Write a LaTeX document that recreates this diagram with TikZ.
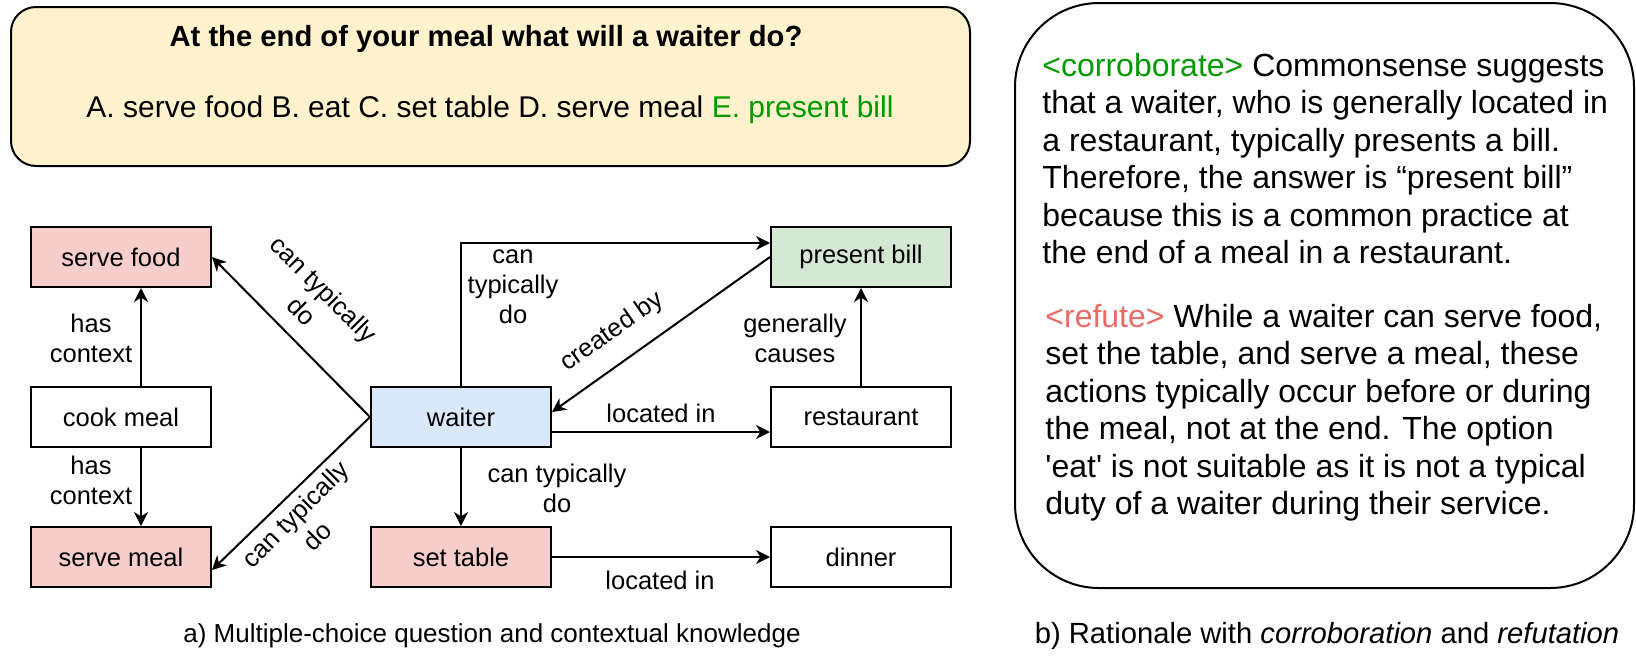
\documentclass[tikz,border=0pt]{standalone}
\usepackage{fontspec}
\setmainfont{Liberation Sans}
\usetikzlibrary{arrows.meta,calc}
\definecolor{redfill}{HTML}{F8CECC}
\definecolor{greenfill}{HTML}{D5E8D4}
\definecolor{bluefill}{HTML}{DAE8FC}
\definecolor{yellowfill}{HTML}{FFF2CC}
\definecolor{greentext}{HTML}{009900}
\definecolor{redtext}{HTML}{EA6B66}
\begin{document}
\begin{tikzpicture}[x=0.5pt,y=-0.5pt,
  concept/.style={draw,line width=1pt,minimum width=90pt,minimum height=30pt,inner sep=0pt,
    font=\fontsize{12.75}{15}\selectfont},
  edgelabel/.style={inner sep=0pt,align=center,font=\fontsize{12.75}{15}\selectfont},
  arr/.style={line width=1pt,-{Stealth[length=7pt,width=7pt,inset=2.2pt]}},
  caption/.style={inner sep=0pt},
  para/.style={inner sep=0pt,align=left,anchor=north west,font=\fontsize{16}{18.75}\selectfont}]
\useasboundingbox (0,0) rectangle (1636,670);

% question box
\node[draw,line width=1pt,fill=yellowfill,rounded corners=12.5pt,minimum width=479.5pt,minimum height=79.5pt,inner sep=0pt] (qbox) at (490.5,86.5) {};
\node[inner sep=0pt,font=\fontsize{14.6}{18}\selectfont\bfseries] (qtext) at (486,39) {At the end of your meal what will a waiter do?};
\node[inner sep=0pt,font=\fontsize{15}{18}\selectfont] (qopts) at (490,110) {A. serve food B. eat C. set table D. serve meal \textcolor{greentext}{E. present bill}};

% concept nodes
\node[concept,fill=redfill] (sf) at (121,257) {serve food};
\node[concept,fill=white] (cm) at (121,417) {cook meal};
\node[concept,fill=redfill] (sm) at (121,557) {serve meal};
\node[concept,fill=bluefill] (w) at (461,417) {waiter};
\node[concept,fill=redfill] (st) at (461,557) {set table};
\node[concept,fill=greenfill] (pb) at (861,257) {present bill};
\node[concept,fill=white] (rest) at (861,417) {restaurant};
\node[concept,fill=white] (din) at (861,557) {dinner};

% connectors
\draw[arr] ([xshift=10pt]cm.north) -- ([xshift=10pt]sf.south);
\draw[arr] ([xshift=10pt]cm.south) -- ([xshift=10pt]sm.north);
\draw[arr] (w.west) -- (sf.east);
\draw[arr] (w.west) -- ([yshift=-6.5pt]sm.east);
\draw[arr] (w.north) |- ([yshift=7pt]pb.west);
\draw[arr] (pb.west) -- ([yshift=2.5pt]w.east);
\draw[arr] ([yshift=-7.5pt]w.east) -- ([yshift=-7.5pt]rest.west);
\draw[arr] (rest.north) -- (pb.south);
\draw[arr] (w.south) -- (st.north);
\draw[arr] (st.east) -- (din.west);

% connector labels
\node[edgelabel] (l1) at (91,338) {has\\context};
\node[edgelabel] (l2) at (91,480) {has\\context};
\node[edgelabel,rotate=-45] (l3) at (313,300) {can typically\\do};
\node[edgelabel,rotate=45] (l4) at (306,525) {can typically\\do};
\node[edgelabel] (l5) at (513,287) {can\\typically\\do};
\node[edgelabel,rotate=35] (l6) at (612,332) {created by};
\node[edgelabel] (l7) at (661,413) {located in};
\node[edgelabel] (l8) at (795,338) {generally\\causes};
\node[edgelabel] (l9) at (557,488) {can typically\\do};
\node[edgelabel] (l10) at (660,580) {located in};

% rationale box
\node[draw,line width=1pt,fill=white,rounded corners=42pt,minimum width=309.5pt,minimum height=292.5pt,inner sep=0pt] (rbox) at (1324.5,295.5) {};
\node[para] (corr) at (1042,49.5) {\strut\textcolor{greentext}{<corroborate>} Commonsense suggests\\
that a waiter, who is generally located in\\
a restaurant, typically presents a bill.\\
Therefore, the answer is “present bill”\\
because this is a common practice at\\
the end of a meal in a restaurant.};
\node[para] (refu) at (1045,300.5) {\strut\textcolor{redtext}{<refute>} While a waiter can serve food,\\
set the table, and serve a meal, these\\
actions typically occur before or during\\
the meal, not at the end. The option\\
\textquotesingle eat\textquotesingle\ is not suitable as it is not a typical\\
duty of a waiter during their service.};

% captions
\node[caption,font=\fontsize{13}{15}\selectfont] (capa) at (492,636) {a) Multiple-choice question and contextual knowledge};
\node[caption,font=\fontsize{14.6}{17}\selectfont] (capb) at (1327,636) {b) Rationale with \textit{corroboration} and \textit{refutation}};
\end{tikzpicture}
\end{document}
